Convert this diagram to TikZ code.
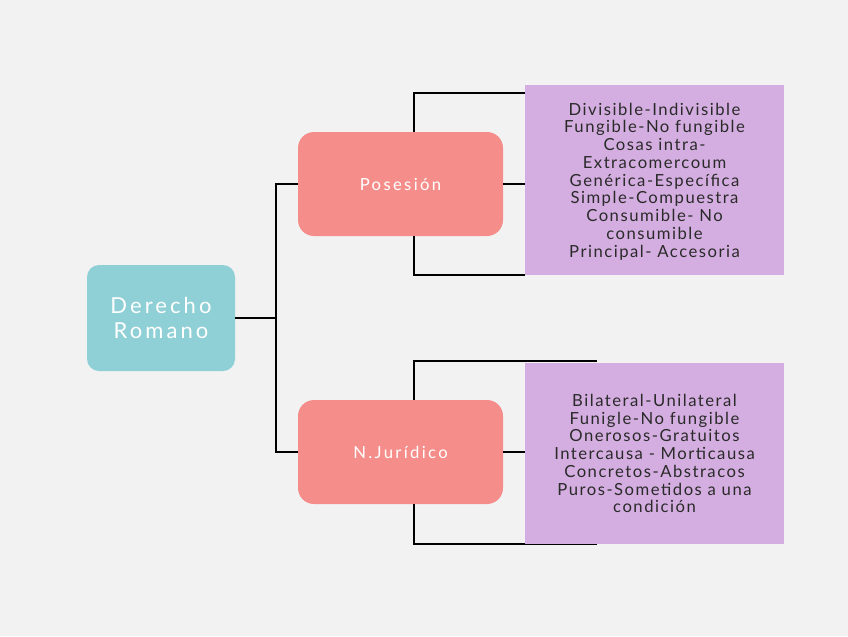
\documentclass[tikz,border=0pt]{standalone}
\usepackage{fontspec}
\setmainfont{Lato}[LetterSpace=9]
\newfontfamily\wide{Lato}[LetterSpace=14]
\definecolor{bg}{HTML}{F2F2F2}
\definecolor{teal}{HTML}{8ED0D6}
\definecolor{salmon}{HTML}{F58E8B}
\definecolor{lilac}{HTML}{D4AEE0}
\definecolor{ink}{HTML}{2A2A2A}
\begin{document}
\begin{tikzpicture}[x=0.75pt,y=-0.75pt,
  main/.style={fill=teal,rounded corners=9pt,text=white,align=center,font=\wide\fontsize{16.5}{19}\selectfont,minimum width=111pt,minimum height=79.5pt,inner sep=0pt},
  sub/.style={fill=salmon,rounded corners=12pt,text=white,align=center,font=\wide\fontsize{12.5}{14}\selectfont,minimum width=153.75pt,minimum height=78pt,inner sep=0pt},
  leaf/.style={fill=lilac,text=ink,align=center,font=\fontsize{12.5}{13.3}\selectfont,minimum width=194.25pt,inner sep=0pt},
  ln/.style={draw=black,line width=1pt}]
\fill[bg] (0,0) rectangle (848,636);
\node[main] (dr) at (161,318) {Derecho\\Romano};
\node[sub] (po) at (400.5,184) {Posesión};
\node[sub] (nj) at (400.5,452) {N.Jurídico};
\coordinate (j) at (276,318);
\coordinate (pa) at (414,93); \coordinate (pb) at (525,93);
\coordinate (pc) at (414,275); \coordinate (pd) at (525,275);
\coordinate (na) at (414,361); \coordinate (nb) at (597,361);
\coordinate (nc) at (414,544); \coordinate (nd) at (597,544);
\draw[ln] (dr.east) -- (j) |- (po.west);
\draw[ln] (j) |- (nj.west);
\draw[ln] (po.north -| pa) -- (pa) -- (pb);
\draw[ln] (po.south -| pc) -- (pc) -- (pd);
\draw[ln] (nj.north -| na) -- (na) -- (nb);
\draw[ln] (nj.south -| nc) -- (nc) -- (nd);
\node[leaf,minimum height=142.5pt,text depth=0pt] (l1) at (654.5,180) {Divisible-Indivisible\\Fungible-No fungible\\Cosas intra-\\Extracomercoum\\Genérica-Específica\\Simple-Compuestra\\Consumible- No\\consumible\\Principal- Accesoria};
\node[leaf,minimum height=135.75pt] (l2) at (654.5,453.5) {Bilateral-Unilateral\\Funigle-No fungible\\Onerosos-Gratuitos\\Intercausa - Morticausa\\Concretos-Abstracos\\Puros-Sometidos a una\\condición};
\draw[ln] (po.east) -- (l1.west |- po.east);
\draw[ln] (nj.east) -- (l2.west |- nj.east);
\end{tikzpicture}
\end{document}
